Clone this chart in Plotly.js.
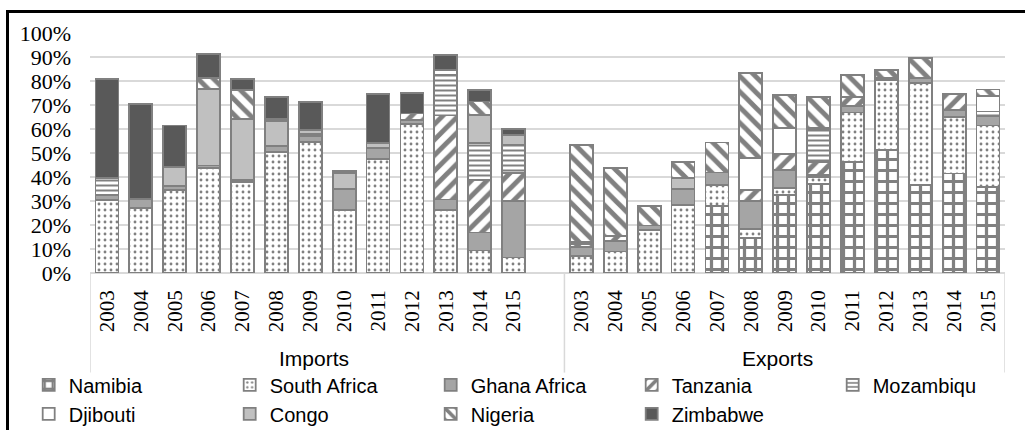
<!DOCTYPE html>
<html>
<head>
<meta charset="utf-8">
<script src="https://cdn.plot.ly/plotly-3.0.1.min.js"></script>
<style>
  html, body { margin: 0; padding: 0; background: #ffffff; }
  #wrap { position: relative; width: 1025px; height: 430px; overflow: hidden; }
  #chart { position: absolute; left: 0; top: 0; width: 1025px; height: 430px; }
  #frame { position: absolute; left: 6px; top: 10px; width: 1100px; height: 500px;
           border-left: 3px solid #000; border-top: 3px solid #000; pointer-events: none; }
</style>
</head>
<body>
<div id="wrap">
  <div id="chart"></div>
  <div id="frame"></div>
</div>
<script>
// ---- data (percent share) ----
var years = ['2003','2004','2005','2006','2007','2008','2009','2010','2011','2012','2013','2014','2015'];
var groupLabels = ['Imports', 'Exports'];
var seriesNames = ['Namibia','South Africa','Ghana Africa','Tanzania','Mozambiqu','Djibouti','Congo','Nigeria','Zimbabwe'];

var importsNamibia    = [0, 0, 0, 0, 0, 0, 0, 0, 0, 0, 0, 0, 0];
var importsSouthAfr   = [30.5, 27, 34.5, 43.8, 37.8, 50.3, 54.5, 26.1, 47.5, 62, 26.1, 9.4, 6.5];
var importsGhana      = [2, 4, 1.7, 1, 1.1, 2.5, 2.5, 9, 4.6, 1.7, 4.5, 7.5, 23.4];
var importsTanzania   = [0, 0, 0, 0, 0, 0, 0, 0, 0, 2.8, 35, 22, 11.8];
var importsMozambique = [7, 0, 0, 0, 0, 0, 1, 0, 0, 0, 17, 15.3, 11.8];
var importsDjibouti   = [0, 0, 0, 0, 0, 0, 0, 0, 0, 0, 2, 0, 0];
var importsCongo      = [0, 0, 7.9, 32, 25.3, 10.4, 1.5, 6.5, 2.1, 0, 0, 11.8, 4.1];
var importsNigeria    = [0, 0, 0, 4.6, 11.9, 1, 0, 0, 0, 0, 0, 5.5, 0];
var importsZimbabwe   = [41.5, 39.4, 17.4, 10, 4.7, 9, 11.9, 0.8, 20.4, 8.4, 6.4, 4.6, 2.5];

var exportsNamibia    = [0, 0, 0, 0, 27.8, 14.6, 32.6, 37, 46.4, 51.2, 36.7, 41.5, 36];
var exportsSouthAfr   = [7, 9, 18, 28.5, 9, 3.7, 2.8, 3, 20.5, 29.2, 42.5, 23.5, 25.5];
var exportsGhana      = [4, 4.5, 1.8, 6.5, 5.1, 11.6, 7.4, 1, 2.7, 0.8, 2, 3, 3.8];
var exportsTanzania   = [1, 2, 0, 0, 0, 4.8, 6.9, 5.4, 3.9, 0, 0, 6.6, 0];
var exportsMozambique = [0, 0, 0, 0, 0, 0, 0, 13.2, 0, 0, 0, 0, 2];
var exportsDjibouti   = [1, 0, 0, 0, 0, 13.2, 10.7, 0.7, 0, 0, 0, 0, 6.3];
var exportsCongo      = [0, 0, 0, 4.5, 0, 0, 0, 0, 0, 0, 0, 0, 0];
var exportsNigeria    = [40.5, 28.3, 8, 6.6, 12.5, 35.4, 13.9, 12.9, 9.1, 3.5, 8.4, 0, 2.9];
var exportsZimbabwe   = [0, 0, 0, 0, 0, 0, 0, 0, 0, 0, 0, 0, 0];

var yTickVals = [0, 10, 20, 30, 40, 50, 60, 70, 80, 90, 100];
var yTickText = ['0%','10%','20%','30%','40%','50%','60%','70%','80%','90%','100%'];

// ---- build ----
var cats = years.map(function(y){return 'Imports ' + y;})
  .concat(['gap'])
  .concat(years.map(function(y){return 'Exports ' + y;}));
var tickVals = cats.filter(function(c){return c !== 'gap';});
var tickText = years.concat(years);

var importsAll = [importsNamibia, importsSouthAfr, importsGhana, importsTanzania, importsMozambique,
                  importsDjibouti, importsCongo, importsNigeria, importsZimbabwe];
var exportsAll = [exportsNamibia, exportsSouthAfr, exportsGhana, exportsTanzania, exportsMozambique,
                  exportsDjibouti, exportsCongo, exportsNigeria, exportsZimbabwe];

var G = '#808080';
var styles = [
  {color: G, pattern: {shape: '+', fgcolor: G, bgcolor: '#ffffff', size: 11, solidity: 0.5}},
  {color: G, pattern: {shape: '.', fgcolor: G, bgcolor: '#ffffff', size: 6, solidity: 0.18}},
  {color: '#a5a5a5'},
  {color: G, pattern: {shape: '/', fgcolor: G, bgcolor: '#ffffff', size: 11, solidity: 0.45}},
  {color: G, pattern: {shape: '-', fgcolor: G, bgcolor: '#ffffff', size: 5, solidity: 0.4}},
  {color: '#ffffff'},
  {color: '#c0c0c0'},
  {color: G, pattern: {shape: '\\', fgcolor: G, bgcolor: '#ffffff', size: 11, solidity: 0.45}},
  {color: '#595959'}
];

function nz(v){ return v === 0 ? null : v; }

var traces = seriesNames.map(function(name, i){
  var vals = importsAll[i].map(nz).concat([null]).concat(exportsAll[i].map(nz));
  var m = {color: styles[i].color, line: {color: G, width: 1.8}};
  if (styles[i].pattern) m.pattern = styles[i].pattern;
  return {type: 'bar', name: name, x: cats, y: vals, marker: m, hoverinfo: 'skip'};
});

var lineTop = 0, lineBot = -0.415;
var shapes = [-0.5, 13.5, 26.5].map(function(xv){
  return {type: 'line', xref: 'x', yref: 'paper', x0: xv, x1: xv, y0: lineBot, y1: lineTop,
          line: {color: '#d9d9d9', width: 1.5}};
});

var sans = 'Liberation Sans, Arial, sans-serif';
var serif = 'Liberation Serif, Times New Roman, serif';

var layout = {
  width: 1025, height: 430,
  margin: {l: 90, r: 20, t: 33, b: 157, autoexpand: false},
  paper_bgcolor: '#ffffff', plot_bgcolor: '#ffffff',
  barmode: 'stack', bargap: 0.32,
  showlegend: true,
  font: {family: sans, color: '#000'},
  xaxis: {
    type: 'category', categoryorder: 'array', categoryarray: cats,
    range: [-0.5, 26.5], showgrid: false, showline: false, zeroline: false,
    tickmode: 'array', tickvals: tickVals, ticktext: tickText, tickangle: -90,
    ticks: '', ticklabelstandoff: 12, automargin: false,
    tickfont: {family: serif, size: 21, color: '#000'}
  },
  yaxis: {
    range: [0, 100], tickmode: 'array', tickvals: yTickVals, ticktext: yTickText,
    showgrid: true, gridcolor: '#d9d9d9', gridwidth: 2,
    zeroline: true, zerolinecolor: '#d9d9d9', zerolinewidth: 2,
    showline: false, ticks: '', ticklabelstandoff: 18, automargin: false,
    tickfont: {family: serif, size: 22, color: '#000'}
  },
  legend: {
    orientation: 'h', x: -0.067, xanchor: 'left', y: -0.385, yanchor: 'top',
    entrywidth: 156, entrywidthmode: 'pixels', traceorder: 'normal',
    font: {family: sans, size: 20, color: '#000'},
    bgcolor: 'rgba(0,0,0,0)', itemwidth: 30, tracegroupgap: 0
  },
  shapes: shapes,
  annotations: [
    {text: groupLabels[0], xref: 'x', yref: 'paper', x: 6.1, y: -0.358, showarrow: false,
     xanchor: 'center', yanchor: 'middle', font: {family: sans, size: 21, color: '#000'}},
    {text: groupLabels[1], xref: 'x', yref: 'paper', x: 19.8, y: -0.358, showarrow: false,
     xanchor: 'center', yanchor: 'middle', font: {family: sans, size: 21, color: '#000'}}
  ]
};

Plotly.newPlot('chart', traces, layout, {staticPlot: true, displayModeBar: false});
</script>
</body>
</html>
